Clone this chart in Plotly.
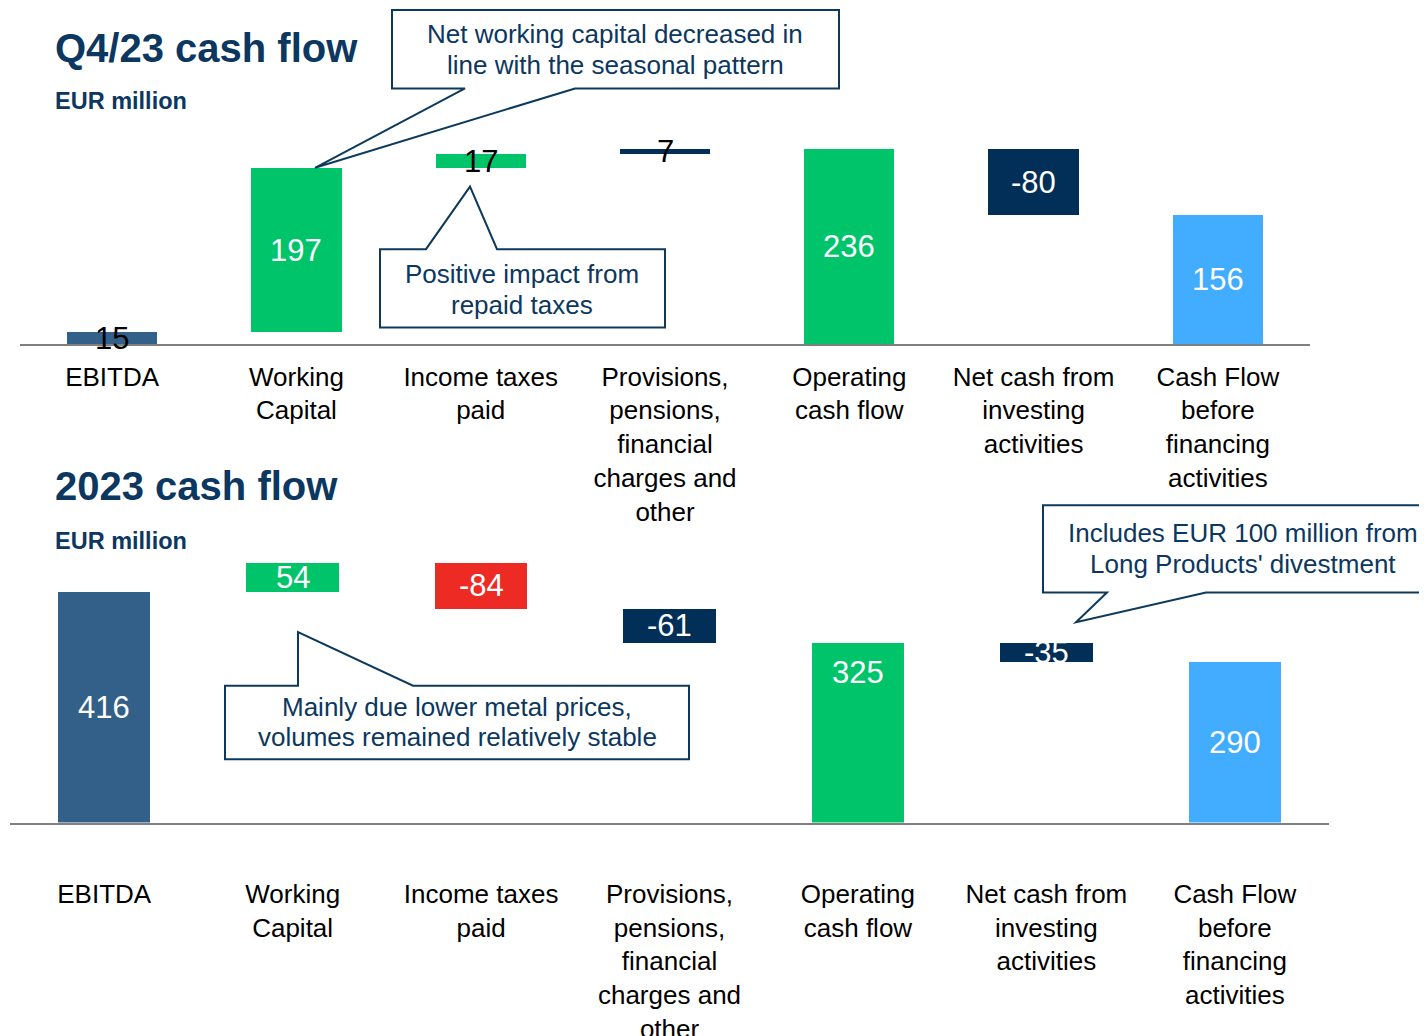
import plotly.graph_objects as go

W, H = 1427, 1036
OFF = 8              # default page body margin
K = 1044 / 1036      # page is 8px taller than the window and gets fitted back

# ---- data ----
categories_q4 = ["EBITDA", "Working<br>Capital", "Income taxes<br>paid",
                 "Provisions,<br>pensions,<br>financial<br>charges and<br>other",
                 "Operating<br>cash flow", "Net cash from<br>investing<br>activities",
                 "Cash Flow<br>before<br>financing<br>activities"]
values_q4 = [15, 197, 17, 7, 236, -80, 156]
measure_q4 = ["absolute", "relative", "relative", "relative", "total", "relative", "total"]

categories_fy = categories_q4
values_fy = [416, 54, -84, -61, 325, -35, 290]
measure_fy = measure_q4

# ---- styles ----
NAVY = "#0b3760"
STEEL = "#336089"
GREEN = "#00c46a"
DARK = "#022f57"
LIGHT = "#42acff"
RED = "#ee2a24"
colors_q4 = [STEEL, GREEN, GREEN, DARK, GREEN, DARK, LIGHT]
colors_fy = [STEEL, GREEN, RED, DARK, GREEN, DARK, LIGHT]
textcol_q4 = ["black", "white", "black", "black", "white", "white", "white"]
textcol_fy = ["white"] * 7
FONT = "Liberation Sans, Arial, sans-serif"


# screen pixel -> paper fraction
def px(x):
    return (x - OFF) / W


def py(y):
    return 1 - (y * K - OFF) / H


def floating(values, measures):
    base, height, run = [], [], 0
    for v, m in zip(values, measures):
        if m == "absolute":
            base.append(0); height.append(v); run = v
        elif m == "total":
            base.append(0); height.append(run)
        else:
            base.append(run if v >= 0 else run + v); height.append(abs(v)); run += v
    return base, height


fig = go.Figure()
annotations = []


def add_chart(values, measures, cats, colors, tcols, xa, ya, top_inside=None):
    base, height = floating(values, measures)
    xs = list(range(len(values)))
    fig.add_trace(go.Bar(x=xs, y=height, base=base, marker_color=colors,
                         marker_line_width=0, width=0.49, xaxis=xa, yaxis=ya,
                         showlegend=False, hoverinfo="skip"))
    for i, (b, h, v) in enumerate(zip(base, height, values)):
        if top_inside is not None and i == top_inside:
            annotations.append(dict(x=i, y=b + h, xref=xa, yref=ya, text=str(v),
                                    showarrow=False, yanchor="top", yshift=-10,
                                    font=dict(size=31, color=tcols[i], family=FONT)))
        else:
            annotations.append(dict(x=i, y=b + h / 2, xref=xa, yref=ya, text=str(v),
                                    showarrow=False, yanchor="middle",
                                    font=dict(size=31, color=tcols[i], family=FONT)))


add_chart(values_q4, measure_q4, categories_q4, colors_q4, textcol_q4, "x", "y")
add_chart(values_fy, measure_fy, categories_fy, colors_fy, textcol_fy, "x2", "y2", top_inside=4)

axis_common = dict(showgrid=False, zeroline=False, ticks="", showline=True,
                   linecolor="#7f7f7f", linewidth=2,
                   tickfont=dict(size=26, color="black", family=FONT))

fig.update_layout(
    width=W, height=H, margin=dict(l=0, r=0, t=0, b=0),
    paper_bgcolor="white", plot_bgcolor="white", bargap=0,
    xaxis=dict(domain=[px(20), px(1310)], range=[-0.5, 6.5], tickvals=list(range(7)),
               ticktext=categories_q4, anchor="y", ticklabelstandoff=8, **axis_common),
    yaxis=dict(domain=[py(347), py(347 - 250 * 0.835)], range=[0, 250], visible=False,
               anchor="x"),
    xaxis2=dict(domain=[px(10), px(1329)], range=[-0.5, 6.5], tickvals=list(range(7)),
                ticktext=categories_fy, anchor="y2", ticklabelstandoff=47, **axis_common),
    yaxis2=dict(domain=[py(829), py(829 - 500 * 0.5577)], range=[0, 500], visible=False,
                anchor="x2"),
)


def text(x, y, s, size, bold=False, color=NAVY, xanchor="left"):
    annotations.append(dict(x=px(x), y=py(y), xref="paper", yref="paper", text=s,
                            showarrow=False, xanchor=xanchor, yanchor="middle",
                            font=dict(size=size, color=color, family=FONT,
                                      weight="bold" if bold else "normal")))


text(53, 48, "Q4/23 cash flow", 40, bold=True)
text(53, 102, "EUR million", 23.5, bold=True)
text(53, 490, "2023 cash flow", 40, bold=True)
text(53, 545, "EUR million", 23.5, bold=True)

# callouts
callouts = [
    [(392, 10), (839, 10), (839, 89), (575, 89), (315, 169), (465, 89), (392, 89)],
    [(380, 251), (426, 251), (470, 188), (497, 251), (665, 251), (665, 330), (380, 330)],
    [(225, 691), (298, 691), (298, 637), (413, 691), (689, 691), (689, 765), (225, 765)],
    [(1043, 509), (1445, 509), (1445, 597), (1206, 597), (1076, 627), (1107, 597), (1043, 597)],
]
shapes = []
for pts in callouts:
    path = "M " + " L ".join(f"{px(x):.5f},{py(y):.5f}" for x, y in pts) + " Z"
    shapes.append(dict(type="path", path=path, xref="paper", yref="paper",
                       fillcolor="white", line=dict(color="#0d3a5c", width=2), layer="above"))

callout_text = [
    (615, 34, "Net working capital decreased in"),
    (615, 65, "line with the seasonal pattern"),
    (522, 276, "Positive impact from"),
    (522, 307, "repaid taxes"),
    (457, 712, "Mainly due lower metal prices,"),
    (457, 743, "volumes remained relatively stable"),
    (1243, 537, "Includes EUR 100 million from"),
    (1243, 568, "Long Products' divestment"),
]
for x, y, s in callout_text:
    text(x, y, s, 26, color=NAVY, xanchor="center")

fig.update_layout(shapes=shapes, annotations=annotations)
fig.write_html("out.html", config={"displayModeBar": False})
